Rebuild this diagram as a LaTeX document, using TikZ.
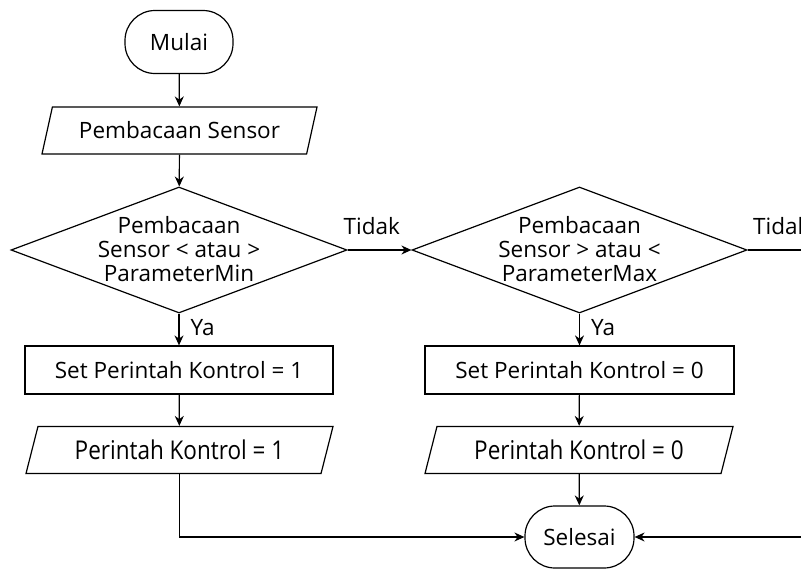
\documentclass[tikz,border=0pt]{standalone}
\usepackage{fontspec}
\usepackage{graphicx}
\setmainfont{Open Sans}
\usetikzlibrary{arrows.meta,shapes.geometric}
\newcommand\dtext[1]{\makebox[0pt]{\smash{\raisebox{-8pt}{\begin{tabular}{@{}c@{}}#1\end{tabular}}}}}
\newcommand\tall[1]{\scalebox{1}[1.15]{#1}}
\begin{document}
\begin{tikzpicture}[x=1pt,y=-1pt,
  every node/.style={font=\fontsize{22.5}{24}\selectfont},
  lw/.style={line width=1.2pt},
  arr/.style={lw,-{Stealth[length=10pt,width=9pt]}},
  term/.style={draw,lw,rectangle,rounded corners=30pt,minimum width=108pt,minimum height=63pt,inner sep=0pt},
  procbox/.style={draw,lw,rectangle,minimum width=308pt,minimum height=48pt,inner sep=0pt},
  iobox/.style={draw,lw,trapezium,trapezium left angle=59,trapezium right angle=121,
     trapezium stretches body=true,minimum height=47pt,inner sep=0pt},
  dec/.style={draw,lw,diamond,minimum width=336pt,minimum height=126pt,inner sep=0pt},
  lbl/.style={inner sep=0pt}
]
\useasboundingbox (0,0) rectangle (801,570);
\clip (0,0) rectangle (801,570);

\node[term] (mulai) at (179,42) {Mulai};
\node[iobox,minimum width=275pt] (baca) at (179.5,130.5) {Pembacaan Sensor};
\node[dec] (d1) at (179,250) {\dtext{Pembacaan\\Sensor < atau >\\ParameterMin}};
\node[dec,minimum width=335pt] (d2) at (579.5,250) {\dtext{Pembacaan\\Sensor > atau <\\ParameterMax}};
\node[procbox] (s1) at (179,370) {Set Perintah Kontrol = 1};
\node[procbox,minimum width=309pt] (s2) at (579.5,370) {Set Perintah Kontrol = 0};
\node[iobox,minimum width=307pt] (p1) at (179.5,450) {\tall{Perintah Kontrol = 1}};
\node[iobox,minimum width=308pt] (p2) at (579,450) {\tall{Perintah Kontrol = 0}};
\node[term,minimum width=109pt,minimum height=62pt] (sel) at (579.5,537) {Selesai};
\coordinate (rt) at (815,250);

\draw[arr] (mulai) -- (baca);
\draw[arr] (baca) -- (d1);
\draw[arr] (d1.east) -- node[lbl,above=15pt,pos=0.38] {Tidak} (d2.west);
\draw[arr] (d1.south) -- node[lbl,right=11pt,pos=0.45] {Ya} (s1.north);
\draw[arr] (d2.south) -- node[lbl,right=11pt,pos=0.45] {Ya} (s2.north);
\draw[arr] (s1) -- (p1);
\draw[arr] (s2) -- (p2);
\draw[arr] (p2) -- (sel);
\draw[arr] (p1.south) |- (sel.west);
\draw[arr] (d2.east) -- node[lbl,above=15pt,pos=0,anchor=south west,xshift=5pt] {Tidak} (rt) |- (sel.east);
\end{tikzpicture}
\end{document}
